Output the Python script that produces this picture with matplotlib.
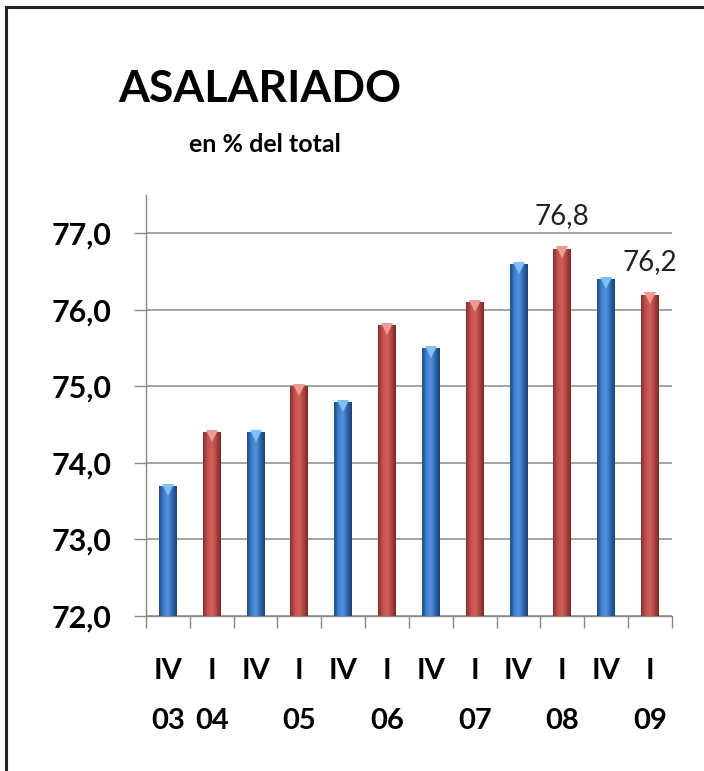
import matplotlib
matplotlib.use("Agg")
import matplotlib.pyplot as plt
import numpy as np
from matplotlib.colors import LinearSegmentedColormap
from matplotlib.lines import Line2D

plt.rcParams['font.family'] = ['Lato', 'DejaVu Sans']

quarters = ["IV", "I", "IV", "I", "IV", "I", "IV", "I", "IV", "I", "IV", "I"]
years = ["03", "04", "", "05", "", "06", "", "07", "", "08", "", "09"]
values = [73.7, 74.4, 74.4, 75.0, 74.8, 75.8, 75.5, 76.1, 76.6, 76.8, 76.4, 76.2]
labeled = {9: "76,8", 11: "76,2"}
yticks = [72.0, 73.0, 74.0, 75.0, 76.0, 77.0]

blue_cm = LinearSegmentedColormap.from_list("b", ["#1d4a86", "#3f7fd0", "#5592dc", "#2f66ad", "#1a4279"])
red_cm = LinearSegmentedColormap.from_list("r", ["#8a2d2b", "#c2504d", "#d2625e", "#b04643", "#7d2624"])
base_cols = ["#2f66ad", "#b84a47"]
tri_cols = ["#7fc0f5", "#f09a96"]

fig = plt.figure(figsize=(7.04, 7.71), dpi=100)
ax = fig.add_axes([0.2074, 0.201, 0.747, 0.546])

x = np.arange(len(values))
bottom = 72.0
bars = ax.bar(x, np.array(values) - bottom, bottom=bottom, width=0.41,
              color=[base_cols[i % 2] for i in range(len(values))], zorder=2)

grad = np.linspace(0, 1, 64).reshape(1, -1)
for i, b in enumerate(bars):
    cm = blue_cm if i % 2 == 0 else red_cm
    x0, w = b.get_x(), b.get_width()
    y0, h = b.get_y(), b.get_height()
    im = ax.imshow(grad, cmap=cm, aspect='auto', extent=(x0, x0 + w, y0, y0 + h),
                   zorder=3, interpolation='bicubic')
    im.set_clip_path(b)
    ax.plot([x0 + w / 2], [y0 + h - 0.05], marker='v', markersize=9,
            color=tri_cols[i % 2], markeredgewidth=0, zorder=4)

for i, txt in labeled.items():
    ax.annotate(txt, (x[i], values[i]), xytext=(0, 17.5), textcoords='offset points',
                ha='center', va='baseline', fontsize=20, color='#222222')

ax.set_xlim(-0.5, len(values) - 0.5)
ax.set_ylim(72.0, 77.5)
ax.set_yticks(yticks)
ax.set_yticklabels([f"{v:.1f}".replace(".", ",") for v in yticks],
                   fontsize=22, fontweight='bold')
ax.tick_params(axis='y', length=8.6, width=1.0, color='#888888', pad=16)

ax.set_xticks(x)
ax.set_xticklabels(quarters, fontsize=21, fontweight='bold')
ax.set_xticks(np.arange(-0.5, len(values)), minor=True)
ax.tick_params(axis='x', which='major', length=0, pad=30)
ax.tick_params(axis='x', which='minor', length=8.6, width=1.0, color='#888888')

for i, yl in enumerate(years):
    if yl:
        ax.text(x[i], -0.268, yl, transform=ax.get_xaxis_transform(),
                ha='center', va='baseline', fontsize=21, fontweight='bold')

ax.yaxis.grid(True, color='#8a8a8a', linewidth=1.1)
ax.set_axisbelow(True)
for s in ['top', 'right']:
    ax.spines[s].set_visible(False)
for s in ['left', 'bottom']:
    ax.spines[s].set_color('#888888')
    ax.spines[s].set_linewidth(1.0)

fig.text(260 / 704, 1 - 102 / 771, "ASALARIADO", ha='center', va='baseline',
         fontsize=32, fontweight='bold')
fig.text(265 / 704, 1 - 152 / 771, "en % del total", ha='center', va='baseline',
         fontsize=18, fontweight='bold')

# frame
fig.add_artist(Line2D([6 / 704, 6 / 704], [0, 1 - 7 / 771], transform=fig.transFigure,
                      color='#222222', linewidth=2.2))
fig.add_artist(Line2D([6 / 704, 1], [1 - 7 / 771, 1 - 7 / 771], transform=fig.transFigure,
                      color='#222222', linewidth=2.2))

fig.savefig("out.png", dpi=100)
